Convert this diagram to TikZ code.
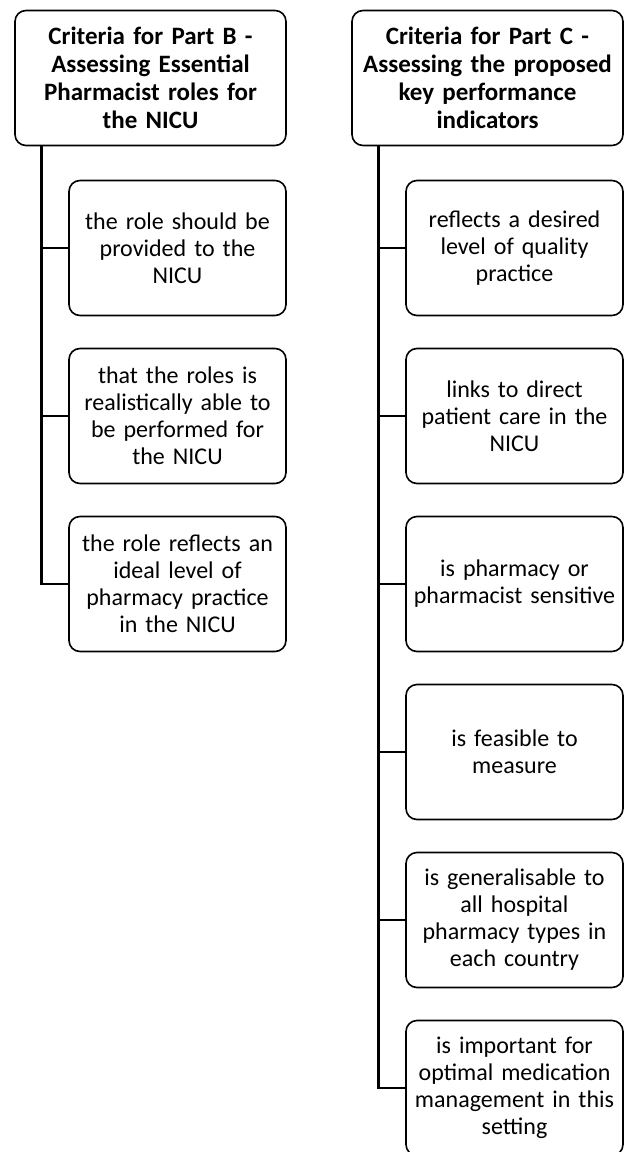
\documentclass[tikz,border=0pt]{standalone}
\usepackage{fontspec}
\setmainfont{Carlito}
\usetikzlibrary{trees}
\begin{document}
\begin{tikzpicture}[x=1pt,y=1pt]
    \useasboundingbox (0,0) rectangle (625,-1152);
    \scoped[grow via three points={one child at (27,-170) and two children at (27,-170) and (27,-338)},
            edge from parent/.style={draw, line width=2.6pt},
            edge from parent path={([xshift=27pt]\tikzparentnode.south west) |- (\tikzchildnode.west)}]{
        \tikzstyle{every node}=[draw, line width=1.6pt, rounded corners=11pt, align=center, inner sep=0pt, minimum height=135pt];
        \tikzstyle{head}=[minimum width=271pt, text width=262pt, font=\bfseries\fontsize{25}{28}\selectfont];
        \tikzstyle{crit}=[minimum width=217pt, text width=210pt, font=\fontsize{24}{27}\selectfont];
        % part B
        \draw (150.5,-78) node (partB) [head] {Criteria for Part B -\\Assessing Essential\\Pharmacist roles for\\the NICU}
            child {node (b1) [crit] {the role should be\\provided to the\\NICU}}
            child {node (b2) [crit] {that the roles is\\realistically able to\\be performed for\\the NICU}}
            child {node (b3) [crit] {the role reflects an\\ideal level of\\pharmacy practice\\in the NICU}};
        % part C
        \draw (487.5,-78) node (partC) [head] {Criteria for Part C -\\Assessing the proposed\\key performance\\indicators}
            child {node (c1) [crit] {reflects a desired\\level of quality\\practice}}
            child {node (c2) [crit] {links to direct\\patient care in the\\NICU}}
            child {node (c3) [crit] {is pharmacy or\\pharmacist sensitive}}
            child {node (c4) [crit] {is feasible to\\measure}}
            child {node (c5) [crit] {is generalisable to\\all hospital\\pharmacy types in\\each country}}
            child {node (c6) [crit] {is important for\\optimal medication\\management in this\\setting}};
    };
\end{tikzpicture}
\end{document}
